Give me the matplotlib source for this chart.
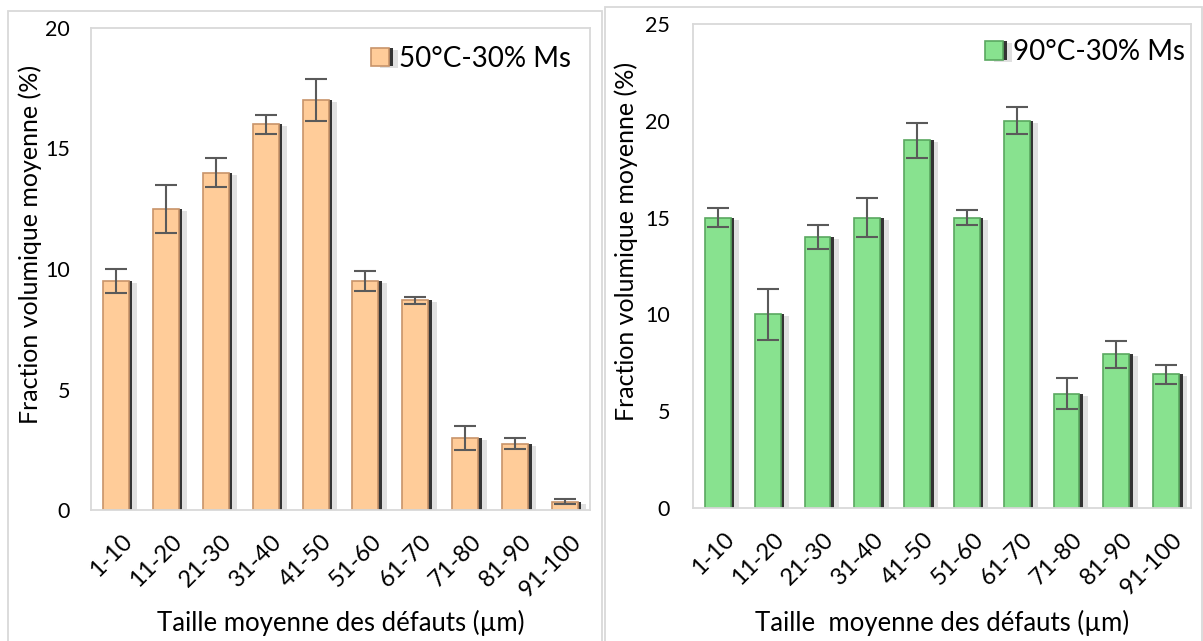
import numpy as np
import matplotlib
matplotlib.use("Agg")
import matplotlib.pyplot as plt
import matplotlib.patheffects as pe
from matplotlib.patches import Rectangle
from matplotlib.transforms import ScaledTranslation

# values
categories = ["1-10", "11-20", "21-30", "31-40", "41-50",
              "51-60", "61-70", "71-80", "81-90", "91-100"]
vals_50 = [9.5, 12.5, 14.0, 16.0, 17.0, 9.5, 8.7, 3.0, 2.75, 0.35]
err_50 = [0.5, 1.0, 0.6, 0.4, 0.87, 0.4, 0.15, 0.5, 0.22, 0.1]
vals_90 = [15.0, 10.0, 14.0, 15.0, 19.0, 15.0, 20.0, 5.9, 7.95, 6.9]
err_90 = [0.5, 1.3, 0.6, 1.0, 0.9, 0.4, 0.7, 0.8, 0.7, 0.5]

plt.rcParams["font.family"] = ["Lato", "DejaVu Sans"]

fig = plt.figure(figsize=(12.03, 6.41), dpi=100)
W, H = 1203.0, 641.0

# light frames around each panel (chart area borders)
fig.patches.append(Rectangle((8 / W, -0.05), 594 / W, 1.0 - 11 / H + 0.05,
                             transform=fig.transFigure, fill=False,
                             edgecolor="#d9d9d9", linewidth=1.3))
fig.patches.append(Rectangle((605 / W, -0.05), 597 / W, 1.0 - 7 / H + 0.05,
                             transform=fig.transFigure, fill=False,
                             edgecolor="#d9d9d9", linewidth=1.3))


def draw_panel(ax, vals, errs, face, edge, label, ymax, xlabel,
               ytick_pad, ylab_x, xlab_y, leg_xy):
    x = np.arange(len(categories))
    effects = [pe.SimplePatchShadow(offset=(6, -1.5), shadow_rgbFace="#000000", alpha=0.12),
               pe.SimplePatchShadow(offset=(2.5, 0), shadow_rgbFace="#2b2b2b", alpha=0.95),
               pe.Normal()]
    bars = ax.bar(x, vals, width=0.52, color=face, edgecolor=edge, linewidth=1.2,
                  label=label, zorder=2)
    for b in bars:
        b.set_path_effects(effects)
    ax.errorbar(x, vals, yerr=errs, fmt="none", ecolor="#5a5a5a", elinewidth=1.5,
                capsize=8, capthick=1.5, zorder=3)
    ax.set_xlim(-0.5, len(categories) - 0.5)
    ax.set_ylim(0, ymax)
    ax.set_yticks(np.arange(0, ymax + 1, 5))
    ax.set_xticks(x)
    ax.set_xticklabels(categories)
    ax.tick_params(axis="both", length=0, colors="black")
    ax.tick_params(axis="y", pad=ytick_pad, labelsize=15.5)
    ax.tick_params(axis="x", pad=15, labelsize=17, labelrotation=45)
    shift = ScaledTranslation(4 / 72, 0, fig.dpi_scale_trans)
    for t in ax.get_xticklabels():
        t.set_ha("right")
        t.set_va("top")
        t.set_rotation_mode("anchor")
        t.set_fontsize(17)
        t.set_transform(t.get_transform() + shift)
    for s in ax.spines.values():
        s.set_color("#d9d9d9")
        s.set_linewidth(1.3)
    ax.set_ylabel("Fraction volumique moyenne (%)", fontsize=18)
    ax.yaxis.label.set_va("center")
    ax.yaxis.set_label_coords(ylab_x, 0.55)
    ax.set_xlabel(xlabel, fontsize=18.5)
    ax.xaxis.label.set_va("center")
    ax.xaxis.set_label_coords(0.5, xlab_y)
    ax.legend(loc="center right", bbox_to_anchor=leg_xy, fontsize=20,
              frameon=False, handlelength=0.65, handleheight=0.65,
              handletextpad=0.35, borderpad=0, borderaxespad=0)
    return ax


ax1 = fig.add_axes([91 / W, 1 - 510 / H, 499 / W, 482 / H])
draw_panel(ax1, vals_50, err_50, "#ffcc99", "#c8946a", "50°C-30% Ms", 20,
           "Taille moyenne des défauts (µm)",
           ytick_pad=15, ylab_x=-0.122, xlab_y=-0.235, leg_xy=(0.962, 0.936))

ax2 = fig.add_axes([693 / W, 1 - 508 / H, 498 / W, 484 / H])
draw_panel(ax2, vals_90, err_90, "#88e28f", "#5aa860", "90°C-30% Ms", 25,
           "Taille  moyenne des défauts (µm)",
           ytick_pad=16.5, ylab_x=-0.1345, xlab_y=-0.2385, leg_xy=(0.988, 0.942))

fig.savefig("out.png", dpi=100)
